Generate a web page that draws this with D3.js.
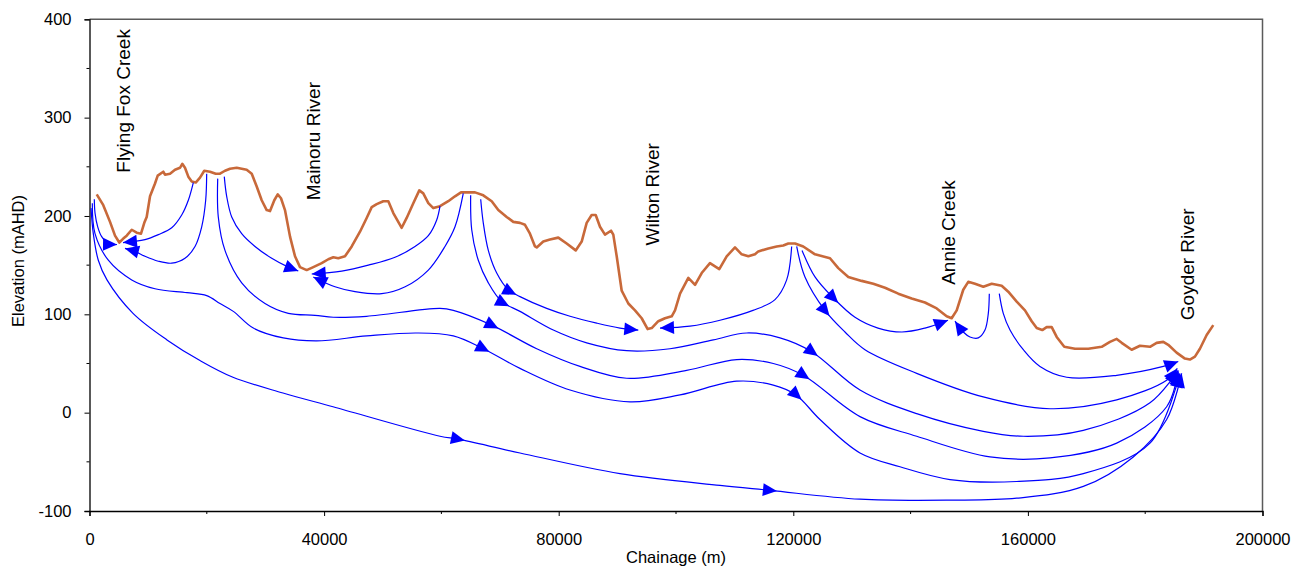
<!DOCTYPE html>
<html>
<head>
<meta charset="utf-8">
<script src="https://cdn.jsdelivr.net/npm/d3@7"></script>
<style>
  body { margin: 0; background: #fff; }
  .chart-container { width: 1304px; height: 568px; }
  text { font-family: "Liberation Sans", Arial, sans-serif; fill: #000; }
</style>
</head>
<body>
<div class="chart-container"></div>
<script>
// ground profile, [chainage (m), elevation (mAHD)]
var terrain = [
  [1230,222],[2350,211],[3500,194],[4350,180],[5080,173],[5760,177],[6340,180],[7200,186],[8050,183],[8780,182],
  [9340,193],[9750,199],[10320,220],[11170,233],[11630,241],[12580,245],[12870,242],[13730,243],[14580,247],[15430,249],
  [15820,253],[16280,249],[16850,240],[17430,235],[18110,234],[18840,239],[19570,246],[20550,245],[21520,243],[22250,243],
  [23100,246],[23960,248],[25100,249],[26800,247],[27660,243],[28510,230],[29360,216],[30210,206],[30780,205],[31510,216],
  [32090,222],[32650,218],[33330,206],[34190,179],[35040,159],[35890,148],[37030,145],[38160,148],[39590,152],[40720,156],
  [41570,158],[42420,157],[43560,159],[44710,169],[46120,184],[47260,198],[48120,209],[48970,212],[50090,215],[50950,215],
  [51800,203],[53230,188],[54080,198],[55210,213],[56230,226],[56910,223],[57770,213],[58620,208],[59760,210],[61170,215],
  [62320,220],[63340,224],[64590,224],[65730,224],[67140,221],[68580,215],[69700,206],[71130,199],[72260,194],[73400,193],
  [74250,191],[75100,182],[75960,169],[76250,168],[77370,174],[78510,176],[79930,178],[81360,172],[82900,165],[83920,174],
  [84770,193],[85620,201],[86310,201],[87040,189],[87890,181],[88920,185],[89310,181],[89890,159],[90740,124],[91870,111],
  [93010,104],[94150,96],[95170,85],[95860,86],[96980,93],[98120,96],[99270,98],[99830,104],[100690,121],[102100,137],
  [103250,130],[104380,142],[105790,152],[107380,146],[108640,159],[110060,168],[111200,161],[112330,159],[113470,161],[114030,164],
  [115740,167],[117170,169],[118290,170],[119150,172],[120290,172],[121700,169],[123700,161],[126260,157],[127670,147],[129380,138],
  [131660,134],[133640,131],[135630,127],[137900,121],[140180,116],[142450,112],[144450,106],[146150,98],[147000,96],[147860,104],
  [148980,125],[149830,133],[150980,131],[152400,128],[153830,131],[155530,129],[156650,123],[158090,113],[159500,104],[160650,93],
  [161500,86],[162450,84],[163200,87],[164060,87],[164910,77],[166200,67],[168030,65],[170300,65],[172580,67],[173990,72],
  [175140,75],[175990,71],[177690,64],[179110,68],[180820,67],[181950,71],[183090,72],[183930,69],[185350,61],[186770,55],
  [187620,54],[188480,57],[189330,65],[190480,79],[191610,89]
];

// flow paths, each drawn from source to discharge point
var flyingFoxWest = [[820,217],[940,203],[1400,189],[2080,179],[3210,172],[4690,171]];
var flyingFoxEastA = [[17700,234],[16850,216],[15720,201],[14020,188],[11730,181],[9460,176],[5710,173]];
var flyingFoxEastB = [[19980,243],[19810,216],[19130,189],[17990,169],[16280,157],[14020,152],[11730,154],[9460,159],[7760,164],[6050,167]];
var mainoruWest = [[22980,240],[23390,220],[24250,199],[25950,182],[28220,169],[31070,157],[33900,148],[35600,144]];
var mainoruEastA = [[59760,210],[59200,196],[57770,180],[55500,169],[52090,158],[47540,150],[43000,144],[37890,141]];
var mainoruEastB = [[63730,223],[62320,189],[60610,169],[57770,145],[53820,128],[49820,121],[45270,123],[41860,128],[38160,138]];
var wiltonWest = [[66700,217],[67140,193],[68000,165],[69430,142],[71400,125],[73400,118],[77950,106],[81930,98],[86480,91],[90450,86],[93570,84]];
var wiltonEast = [[119720,169],[118870,135],[116880,115],[113130,104],[107500,94],[102380,88],[97270,86]];
var annieWest = [[121490,165],[123700,138],[126770,117],[130520,97],[134440,86],[138530,82],[142450,86],[146380,94]];
var annieEast = [[153420,121],[153250,101],[152680,84],[151540,76],[150120,77],[148980,82],[147570,93]];
var goyder1 = [[155120,121],[155800,101],[156950,84],[159220,64],[162060,47],[166610,36],[175140,38],[183090,47],[185640,52]];
var goyder2 = [[120580,169],[121990,138],[125400,104],[128810,82],[132220,64],[141040,40],[152390,16],[163770,4],[175140,13],[183660,33],[185470,45]];
var goyder3 = [[64990,221],[65170,186],[66290,155],[68000,132],[70280,113],[73400,103],[79080,84],[84770,71],[91590,63],[98970,65],
  [106360,74],[112050,81],[117730,76],[123130,62],[131370,23],[141040,-1],[152390,-19],[159220,-24],[169450,-18],[180820,10],[185640,43]];
var goyder4 = [[21860,238],[21960,199],[23100,165],[25950,132],[29920,111],[33900,101],[38450,99],[41570,97],[47260,98],[59760,106],
  [62030,104],[68580,89],[76250,65],[83630,47],[91590,35],[101820,43],[110350,54],[116590,50],[121700,38],[131370,-4],
  [141040,-24],[153540,-45],[163770,-46],[175140,-31],[183660,6],[185640,42]];
var goyder5 = [[480,213],[940,182],[3210,155],[7200,135],[11170,126],[16620,122],[19980,119],[22250,111],[24520,103],[27930,86],[33040,76],
  [38740,73],[47260,78],[55790,81],[62030,78],[67140,65],[73400,45],[81930,23],[92160,11],[100690,18],[110350,32],
  [116590,28],[120460,18],[124550,-7],[131370,-41],[138190,-55],[146720,-68],[158090,-70],[169450,-62],[180820,-31],[185930,40]];
var goyder6 = [[260,208],[650,182],[1500,155],[2980,135],[7420,101],[13210,74],[18840,53],[24460,36],[32990,20],[41520,6],[59760,-24],[62880,-27],
  [73400,-41],[90450,-62],[107500,-74],[116020,-79],[131370,-88],[146720,-89],[158090,-87],[169450,-75],[177970,-45],[183660,-7],[186220,40]];

// chainages where arrowheads sit part way along a path
var wiltonWestArrows = [71700];
var goyder2Arrows = [125400];
var goyder3Arrows = [70500, 123200];
var goyder4Arrows = [68600, 121700];
var goyder5Arrows = [67100, 120500];
var goyder6Arrows = [62800, 116000];
var annieWestArrows = [126800];

var riverNames = ["Flying Fox Creek", "Mainoru River", "Wilton River", "Annie Creek", "Goyder River"];
var riverLabelChainage = [6900, 39300, 97100, 147600, 188300];
var riverLabelElevation = [244, 216, 170, 130, 94];

var xTicks = [0, 40000, 80000, 120000, 160000, 200000];
var xMinorTicks = [20000, 60000, 100000, 140000, 180000];
var yTicks = [-100, 0, 100, 200, 300, 400];
var yMinorTicks = [-50, 50, 150, 250, 350];

var flowLines = [
  { pts: flyingFoxWest, mid: [] },
  { pts: flyingFoxEastA, mid: [] },
  { pts: flyingFoxEastB, mid: [] },
  { pts: mainoruWest, mid: [] },
  { pts: mainoruEastA, mid: [] },
  { pts: mainoruEastB, mid: [] },
  { pts: wiltonWest, mid: wiltonWestArrows },
  { pts: wiltonEast, mid: [] },
  { pts: annieWest, mid: annieWestArrows },
  { pts: annieEast, mid: [] },
  { pts: goyder1, mid: [] },
  { pts: goyder2, mid: goyder2Arrows },
  { pts: goyder3, mid: goyder3Arrows },
  { pts: goyder4, mid: goyder4Arrows },
  { pts: goyder5, mid: goyder5Arrows },
  { pts: goyder6, mid: goyder6Arrows }
];

(function() {
  var width = 1304, height = 568;
  var plotLeft = 89.5, plotRight = 1262.5, plotTop = 19.3, plotBottom = 511;

  var svg = d3.select('.chart-container').append('svg')
    .attr('width', width)
    .attr('height', height);

  var x = d3.scaleLinear().domain([0, 200000]).range([plotLeft, plotRight]);
  var y = d3.scaleLinear().domain([-100, 400]).range([plotBottom, plotTop]);

  // frame: top and right in grey
  svg.append('path')
    .attr('d', 'M' + plotLeft + ',' + plotTop + 'H' + plotRight + 'V' + plotBottom)
    .attr('fill', 'none')
    .attr('stroke', '#5a5a5a')
    .attr('stroke-width', 1.5);

  // axes
  var fmt = function(d) { return String(d); };

  var xAxis = svg.append('g')
    .attr('transform', 'translate(0,' + plotBottom + ')')
    .call(d3.axisBottom(x).tickValues(xTicks).tickSize(5).tickPadding(17).tickFormat(fmt));
  xAxis.append('g').selectAll('line')
    .data(xMinorTicks).enter().append('line')
    .attr('x1', function(d) { return x(d); })
    .attr('x2', function(d) { return x(d); })
    .attr('y1', 0).attr('y2', 3)
    .attr('stroke', '#000');

  var yAxis = svg.append('g')
    .attr('transform', 'translate(' + plotLeft + ',0)')
    .call(d3.axisLeft(y).tickValues(yTicks).tickSize(5).tickPadding(13).tickFormat(fmt));
  yAxis.append('g').selectAll('line')
    .data(yMinorTicks).enter().append('line')
    .attr('y1', function(d) { return y(d); })
    .attr('y2', function(d) { return y(d); })
    .attr('x1', 0).attr('x2', -3)
    .attr('stroke', '#000');

  svg.selectAll('.tick text')
    .style('font-size', '16.5px')
    .style('font-family', '"Liberation Sans", Arial, sans-serif');
  svg.selectAll('.domain').attr('stroke', '#000').attr('stroke-width', 1.3);

  svg.append('text')
    .attr('x', (plotLeft + plotRight) / 2)
    .attr('y', 563)
    .attr('text-anchor', 'middle')
    .style('font-size', '16.5px')
    .text('Chainage (m)');

  svg.append('text')
    .attr('transform', 'translate(24,261) rotate(-90)')
    .attr('text-anchor', 'middle')
    .style('font-size', '16.5px')
    .text('Elevation (mAHD)');

  // river labels
  svg.selectAll('.river')
    .data(riverNames).enter().append('text')
    .attr('class', 'river')
    .attr('transform', function(d, i) {
      return 'translate(' + x(riverLabelChainage[i]) + ',' + y(riverLabelElevation[i]) + ') rotate(-90)';
    })
    .style('font-size', '19px')
    .text(function(d) { return d; });

  // ground line
  var ground = d3.line()
    .x(function(d) { return x(d[0]); })
    .y(function(d) { return y(d[1]); });

  svg.append('path')
    .datum(terrain)
    .attr('d', ground)
    .attr('fill', 'none')
    .attr('stroke', '#C8693A')
    .attr('stroke-width', 2.6)
    .attr('stroke-linejoin', 'round');

  // flow lines
  var flow = d3.line()
    .x(function(d) { return x(d[0]); })
    .y(function(d) { return y(d[1]); })
    .curve(d3.curveCatmullRom.alpha(0.5));

  var arrowShape = 'M0,0L-14,-6.5L-14,6.5Z';

  function addArrow(node, len) {
    var total = node.getTotalLength();
    var p = node.getPointAtLength(Math.min(len, total));
    var q = node.getPointAtLength(Math.max(len - 4, 0));
    var ang = Math.atan2(p.y - q.y, p.x - q.x) * 180 / Math.PI;
    svg.append('path')
      .attr('d', arrowShape)
      .attr('transform', 'translate(' + p.x + ',' + p.y + ') rotate(' + ang + ')')
      .attr('fill', '#0000FF');
  }

  flowLines.forEach(function(f) {
    var path = svg.append('path')
      .datum(f.pts)
      .attr('d', flow)
      .attr('fill', 'none')
      .attr('stroke', '#0000FF')
      .attr('stroke-width', 1.2);
    var node = path.node();
    var total = node.getTotalLength();

    f.mid.forEach(function(c) {
      var target = x(c);
      for (var l = 0; l <= total; l += 0.5) {
        if (node.getPointAtLength(l).x >= target) {
          addArrow(node, l + 7);
          break;
        }
      }
    });
    addArrow(node, total);
  });
})();
</script>
</body>
</html>
